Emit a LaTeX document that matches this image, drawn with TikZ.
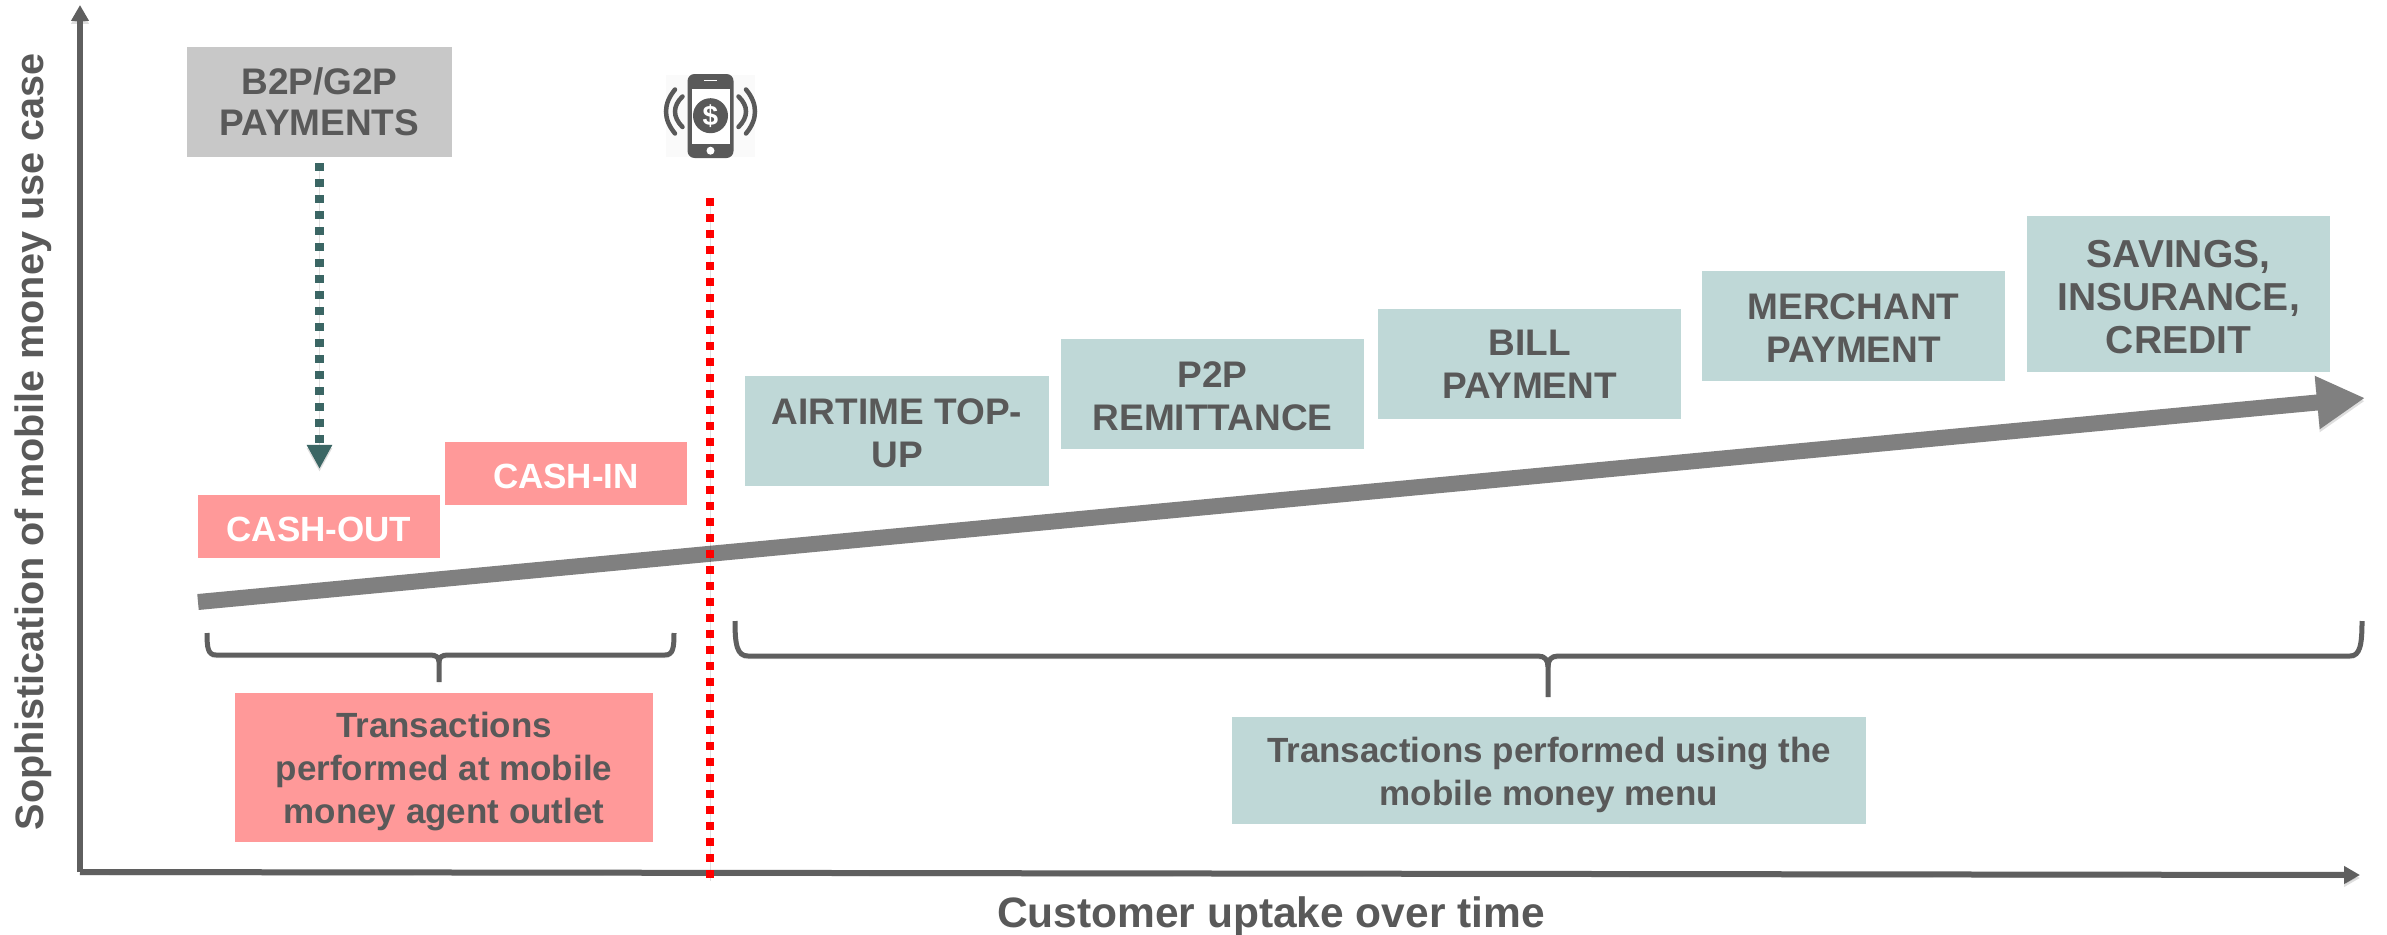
\documentclass[tikz,border=0pt]{standalone}
\usepackage{fontspec}
\setmainfont{Liberation Sans}
\usetikzlibrary{arrows.meta}
\definecolor{txt}{HTML}{595959}
\definecolor{pinkbox}{HTML}{FF9999}
\definecolor{tealbox}{HTML}{BFD8D7}
\definecolor{greybox}{HTML}{C8C8C8}
\definecolor{tealdark}{HTML}{3B6664}
\definecolor{axisgrey}{HTML}{5F5F5F}
\definecolor{bigarrow}{HTML}{808080}
\newcommand{\dn}[1]{\rule{0pt}{#1pt}}
\tikzset{
  x=1pt,y=-1pt,
  softshadow/.style={preaction={draw=black,opacity=.13,transform canvas={yshift=-3pt}}},
  basebox/.style={rectangle,inner sep=0pt,align=center,font=\fontsize{#1}{43}\selectfont\bfseries,text=txt},
  pinkb/.style={basebox=35,fill=pinkbox},
  cashb/.style={basebox=35,fill=pinkbox,text=white},
  tealb/.style={basebox=37,fill=tealbox},
  greyb/.style={basebox=37,fill=greybox,text=txt},
  axisline/.style={draw=axisgrey,line width=6pt,-{Triangle[length=16pt,width=17pt]},softshadow},
  bracel/.style={draw=axisgrey,line width=5pt,line join=round,softshadow},
  label/.style={inner sep=0pt,text=txt,font=\fontsize{#1}{48}\selectfont\bfseries},
}
\begin{document}
\begin{tikzpicture}
\useasboundingbox[fill=white] (0,0) rectangle (2387,934);

% axes
\coordinate (origin) at (80,872);
\coordinate (ytip) at (80,5);
\coordinate (xtip) at (2360,875);
\draw[axisline] (origin) -- (ytip);
\draw[axisline] (origin) -- (xtip);
\node[label=42.5] (xlab) at (1271,917) {Customer uptake over time};
\node[label=39.6,rotate=90] (ylab) at (33,442) {Sophistication of mobile money use case};

% boxes
\node[greyb,minimum width=265pt,minimum height=110pt] (b2p) at (319.5,102) {B2P/G2P\\[-2pt]PAYMENTS};
\node[cashb,minimum width=242pt,minimum height=63pt] (cashin) at (566,473.5) {\dn{30}CASH-IN};
\node[cashb,minimum width=242pt,minimum height=63pt] (cashout) at (319,526.5) {\dn{30}CASH-OUT};
\node[tealb,minimum width=304pt,minimum height=110pt] (air) at (897,431) {\dn{30}AIRTIME TOP-\\UP};
\node[tealb,minimum width=303pt,minimum height=110pt] (p2p) at (1212.5,394) {\dn{30}P2P\\REMITTANCE};
\node[tealb,minimum width=303pt,minimum height=110pt] (bill) at (1529.5,364) {BILL\\PAYMENT};
\node[tealb,minimum width=303pt,minimum height=110pt] (merch) at (1853.5,326) {\dn{30}MERCHANT\\PAYMENT};
\node[tealb,font=\fontsize{39}{43}\selectfont\bfseries,minimum width=303pt,minimum height=156pt] (sav) at (2178.5,294) {\dn{33}SAVINGS,\\INSURANCE,\\CREDIT};
\node[pinkb,minimum width=418pt,minimum height=149pt] (agent) at (444,767.5) {\dn{34}Transactions\\performed at mobile\\money agent outlet};
\node[basebox=35,fill=tealbox,minimum width=634pt,minimum height=107pt] (menu) at (1549,770.5) {\dn{34}Transactions performed using the\\mobile money menu};

% big arrow
\coordinate (bigstart) at (198,602);
\coordinate (bigend) at (2365,398);
\draw[draw=bigarrow,line width=16pt,-{Triangle[length=48pt,width=50pt]},softshadow] (bigstart) -- (bigend);

% dashed arrow
\draw[draw=tealdark,line width=9pt,dash pattern=on 8pt off 8pt,-{Triangle[length=24pt,width=24pt]},shorten <=6pt,shorten >=26pt,softshadow] (b2p.south) -- (b2p.south |- cashout.north);

% braces
\coordinate (la) at (207,633);
\coordinate (lb) at (674,633);
\coordinate (lt) at (439,682);
\draw[bracel] (la) .. controls (207,648) and (208,655) .. (216,655) -- (430,655) .. controls (436,655) and (439,657) .. (439,662) -- (lt);
\draw[bracel] (lb) .. controls (674,648) and (673,655) .. (665,655) -- (448,655) .. controls (442,655) and (439,657) .. (439,662);
\coordinate (ra) at (735,621);
\coordinate (rb) at (2362,621);
\coordinate (rt) at (1548,697);
\draw[bracel] (ra) .. controls (735,645) and (737,656) .. (748,656) -- (1538,656) .. controls (1545,656) and (1548,660) .. (1548,667) -- (rt);
\draw[bracel] (rb) .. controls (2362,645) and (2360,656) .. (2350,656) -- (1558,656) .. controls (1551,656) and (1548,660) .. (1548,667);

% red divider
\coordinate (rtop) at (710,198);
\coordinate (rbot) at (710,878);
\draw[draw=red,line width=8pt,dash pattern=on 8pt off 8pt,softshadow] (rtop) -- (rbot);

% phone icon
\fill[black!2] (666,75) rectangle (755,157);
\fill[txt,rounded corners=7pt] (687.5,74) rectangle (733.5,158);
\fill[white] (691.5,88.5) rectangle (730,144);
\draw[white,line width=1.2pt] (704,80.5) -- (717,80.5);
\fill[txt] (710.5,115.7) circle[radius=17.5pt];
\fill[white] (710.5,150.7) circle[radius=4pt];
\node[inner sep=0pt,text=white,font=\fontsize{28}{30}\selectfont\bfseries] (dollar) at (710.5,115.7) {\$};
\draw[txt,line width=4.5pt,line cap=round] (675,89.5) .. controls (663,104) and (663,119) .. (675,133.5);
\draw[txt,line width=4.5pt,line cap=round] (682.5,96.5) .. controls (672.5,106) and (672.5,117) .. (682.5,127);
\draw[txt,line width=4.5pt,line cap=round] (746,89.5) .. controls (758,104) and (758,119) .. (746,133.5);
\draw[txt,line width=4.5pt,line cap=round] (738.5,96.5) .. controls (748.5,106) and (748.5,117) .. (738.5,127);
\end{tikzpicture}
\end{document}
